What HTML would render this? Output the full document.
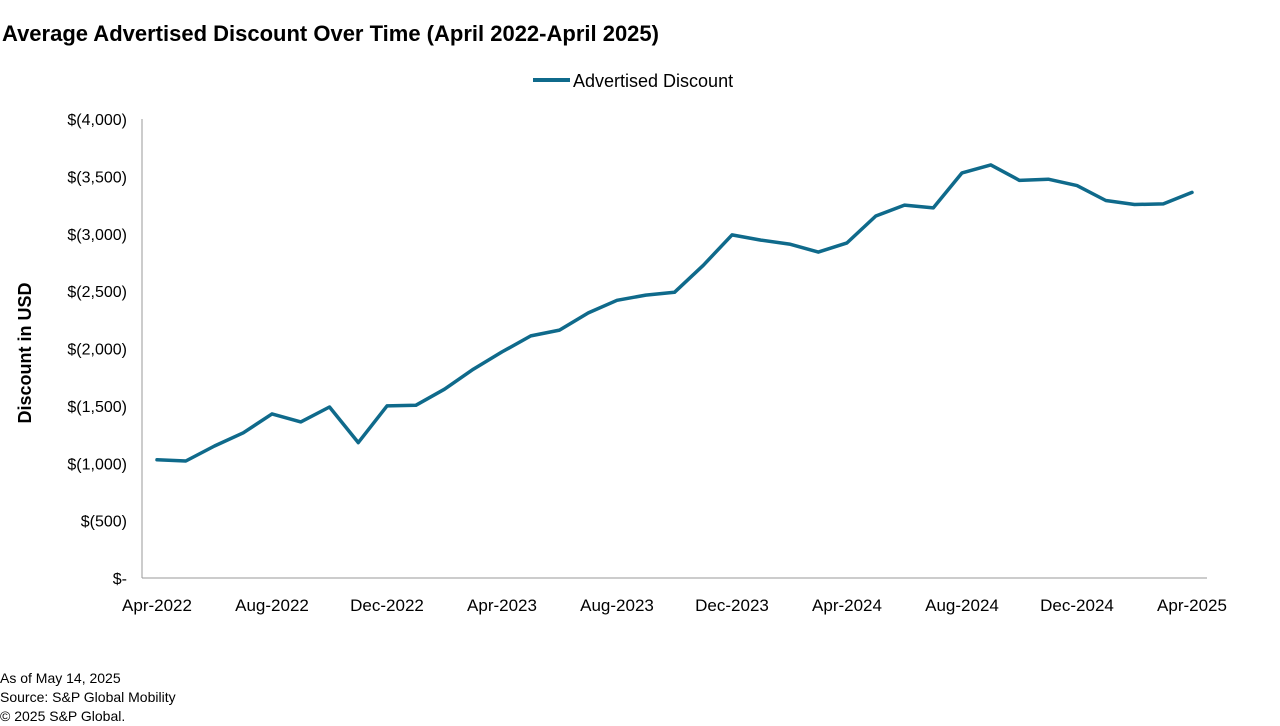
<!DOCTYPE html>
<html><head><meta charset="utf-8"><style>
body{margin:0;background:#fff;font-family:"Liberation Sans",Arial,sans-serif;}
svg{display:block}
</style></head><body>
<svg id="chart" width="1280" height="726" viewBox="0 0 1280 726">
<text x="2" y="41" font-size="22" font-weight="bold" fill="#000">Average Advertised Discount Over Time (April 2022-April 2025)</text>
<g>
<line x1="533" y1="80" x2="570" y2="80" stroke="#0f6a8b" stroke-width="4"/>
<text x="573" y="87" font-size="18" fill="#000">Advertised Discount</text>
</g>
<text transform="translate(31,353) rotate(-90)" text-anchor="middle" font-size="18" font-weight="bold">Discount in USD</text>
<g id="axes"></g>
<g id="series"></g>
<g font-size="14" fill="#000">
<text x="0" y="683">As of May 14, 2025</text>
<text x="0" y="702">Source: S&amp;P Global Mobility</text>
<text x="0" y="721">© 2025 S&amp;P Global.</text>
</g>
</svg>
<script>
const months = ["Apr-2022","May-2022","Jun-2022","Jul-2022","Aug-2022","Sep-2022","Oct-2022","Nov-2022","Dec-2022","Jan-2023","Feb-2023","Mar-2023","Apr-2023","May-2023","Jun-2023","Jul-2023","Aug-2023","Sep-2023","Oct-2023","Nov-2023","Dec-2023","Jan-2024","Feb-2024","Mar-2024","Apr-2024","May-2024","Jun-2024","Jul-2024","Aug-2024","Sep-2024","Oct-2024","Nov-2024","Dec-2024","Jan-2025","Feb-2025","Mar-2025","Apr-2025"];
const discounts = [1030,1020,1150,1265,1430,1360,1490,1180,1500,1505,1645,1820,1970,2110,2160,2310,2420,2465,2490,2725,2990,2945,2910,2840,2920,3155,3250,3225,3530,3600,3465,3475,3420,3290,3255,3260,3360];
const yTicks = [0,500,1000,1500,2000,2500,3000,3500,4000];
const yTickLabels = ["$-","$(500)","$(1,000)","$(1,500)","$(2,000)","$(2,500)","$(3,000)","$(3,500)","$(4,000)"];
const xLabelEvery = 4;

const NS="http://www.w3.org/2000/svg";
const x0=157,x1=1192,yBase=578,yTop=119,yMax=4000;
const xs=i=>x0+(x1-x0)*i/(months.length-1);
const ys=v=>yBase-(yBase-yTop)*v/yMax;
function mk(tag,attrs,parent,text){const e=document.createElementNS(NS,tag);for(const k in attrs)e.setAttribute(k,attrs[k]);if(text!=null)e.textContent=text;parent.appendChild(e);return e;}
const axes=document.getElementById('axes');
const ya=mk('line',{x1:142,y1:yTop,x2:142,y2:yBase,stroke:'#999','stroke-width':1},axes);


const xa=mk('line',{x1:142,y1:yBase,x2:1207,y2:yBase,stroke:'#999','stroke-width':1},axes);


yTicks.forEach((v,i)=>{
  const t=mk('text',{x:127,y:ys(v)+6,'text-anchor':'end','font-size':16},axes,yTickLabels[i]);
  
  
});
months.forEach((m,i)=>{
  if(i%xLabelEvery!==0)return;
  const t=mk('text',{x:xs(i),y:611,'text-anchor':'middle','font-size':17},axes,m);
  
  
});
const pts=discounts.map((v,i)=>xs(i).toFixed(1)+','+ys(v).toFixed(1)).join(' ');
const line=mk('polyline',{points:pts,fill:'none',stroke:'#0f6a8b','stroke-width':3.5,'stroke-linejoin':'round','stroke-linecap':'round'},document.getElementById('series'));


</script>
</body></html>
